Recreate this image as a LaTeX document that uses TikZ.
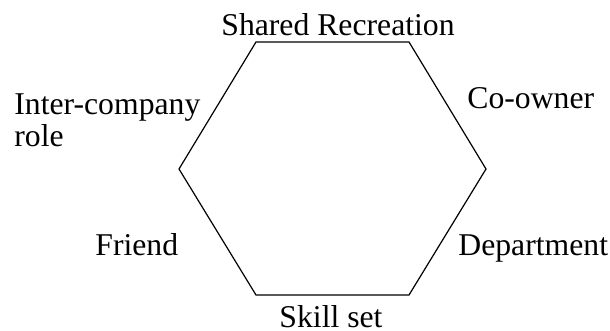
\documentclass[tikz,border=0pt]{standalone}
\usepackage{fontspec}
\setmainfont{Liberation Serif}
\begin{document}
\begin{tikzpicture}[x=0.5pt,y=-0.5pt,
    lbl/.style={inner sep=0pt,font=\fontsize{15.85}{16}\selectfont}]
      \useasboundingbox (0,0) rectangle (610,331);
      % hexagon corners
      \coordinate (tl) at (256,42);
      \coordinate (tr) at (409,42);
      \coordinate (r) at (486,169);
      \coordinate (br) at (409,295);
      \coordinate (bl) at (256,295);
      \coordinate (l) at (179,169);
      \draw[line width=0.6pt] (tl) -- (tr) -- (r) -- (br) -- (bl) -- (l) -- cycle;
      % labels
      \node[lbl,anchor=base] (shared) at (338,36) {Shared Recreation};
      \node[lbl,anchor=base west] (inter) at (14,115) {Inter-company};
      \node[lbl,anchor=base west] (role) at (14,147) {role};
      \node[lbl,anchor=base west] (coowner) at (467,109) {Co-owner};
      \node[lbl,anchor=base west] (friend) at (95,256) {Friend};
      \node[lbl,anchor=base west] (dept) at (458,256) {Department};
      \node[lbl,anchor=base] (skill) at (331,327) {Skill set};
\end{tikzpicture}
\end{document}
